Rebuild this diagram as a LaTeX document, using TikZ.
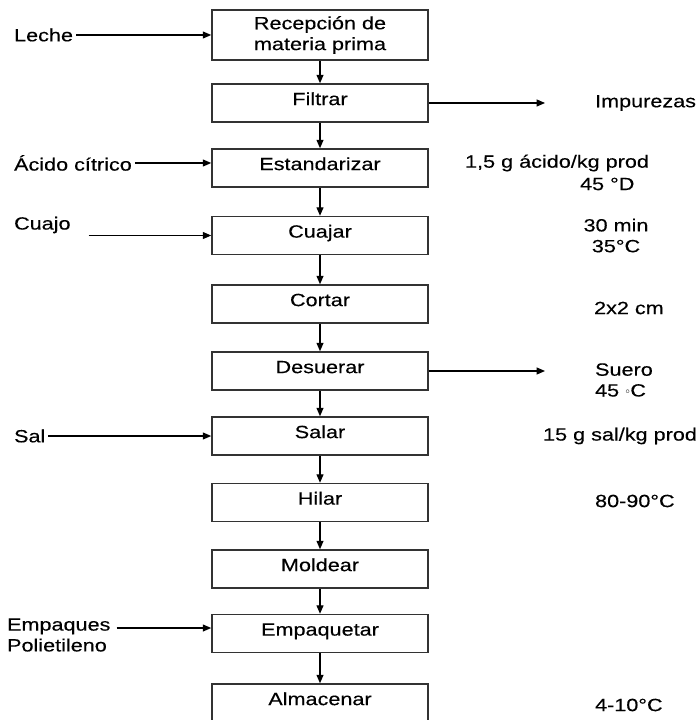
\documentclass[tikz,border=0pt]{standalone}
\usepackage{fontspec}
\setmainfont[FakeStretch=1.22, FakeBold=0.3]{Liberation Sans}
\usetikzlibrary{arrows.meta, calc, positioning}

\begin{document}
\begin{tikzpicture}[x=0.025cm, y=-0.025cm,
  font=\fontsize{12.6}{14.8}\selectfont,
  etapa/.style={draw=black!80, line width=1.1pt, minimum width=5.4cm, minimum height=0.95cm},
  paso/.style={etapa, text height=0.75em, text depth=0.45em},
  flecha/.style={line width=0.8pt, -{Triangle[length=6pt, width=5pt]}},
  dato/.style={inner sep=2pt, align=left}]
\useasboundingbox (0,0) rectangle (699,720);

% etapas del proceso
\node[etapa, minimum height=1.25cm, align=center] (recepcion) at (320,35) {Recepción de\\materia prima};
\node[paso] (filtrar) at (320,103) {Filtrar};
\node[paso] (estandarizar) at (320,168) {Estandarizar};
\node[paso] (cuajar) at (320,235.5) {Cuajar};
\node[paso] (cortar) at (320,304) {Cortar};
\node[paso] (desuerar) at (320,371) {Desuerar};
\node[paso] (salar) at (320,436) {Salar};
\node[paso] (hilar) at (320,502.5) {Hilar};
\node[paso] (moldear) at (320,569) {Moldear};
\node[paso] (empaquetar) at (320,633.5) {Empaquetar};
\node[paso] (almacenar) at (320,703) {Almacenar};

\foreach \a/\b in {recepcion/filtrar, filtrar/estandarizar, estandarizar/cuajar,
  cuajar/cortar, cortar/desuerar, desuerar/salar, salar/hilar, hilar/moldear,
  moldear/empaquetar, empaquetar/almacenar}
  \draw[flecha] (\a) -- (\b);

% entradas
\node[dato, anchor=west] (leche) at (11,35) {Leche};
\draw[flecha] (leche) -- (leche -| recepcion.west);
\node[dato, anchor=west] (acido) at (11,163) {Ácido cítrico};
\draw[flecha] (acido) -- (acido -| estandarizar.west);
\node[dato, anchor=west] (cuajo) at (11,225) {Cuajo};
\draw[flecha] ($(cuajo.east |- cuajar)+(15,0)$) -- (cuajar);
\node[dato, anchor=west] (sal) at (11,436) {Sal};
\draw[flecha] (sal) -- (sal -| salar.west);
\node[dato, anchor=west] (empaques) at (4,635) {Empaques\\Polietileno};
\coordinate (e0) at ($(empaques.east)+(3,-7)$);
\draw[flecha] (e0) -- (e0 -| empaquetar.west);

% salidas
\coordinate (impfin) at (545,103);
\draw[flecha] (filtrar) -- (impfin);
\node[dato, anchor=west] (impurezas) at (592,103) {Impurezas};
\coordinate (suerofin) at (545,371);
\draw[flecha] (desuerar) -- (suerofin);
\node[dato, anchor=west] (suero) at (592,380) {Suero\\45 \raisebox{.35ex}{\tiny$\circ$}C};

% condiciones
\node[dato, anchor=west] (dosis) at (462,163) {1,5 g ácido/kg prod};
\node[dato, anchor=west] (acidez) at (577,184) {45 °D};
\node[dato, align=center] (cuajado) at (616,235.5) {30 min\\35°C};
\node[dato, anchor=west] (corte) at (591,308) {2x2 cm};
\node[dato, anchor=east] (salado) at (700,436) {15 g sal/kg prod};
\node[dato, anchor=west] (hilado) at (592,501) {80-90°C};
\node[dato, anchor=west] (frio) at (592,705) {4-10°C};

\end{tikzpicture}
\end{document}
